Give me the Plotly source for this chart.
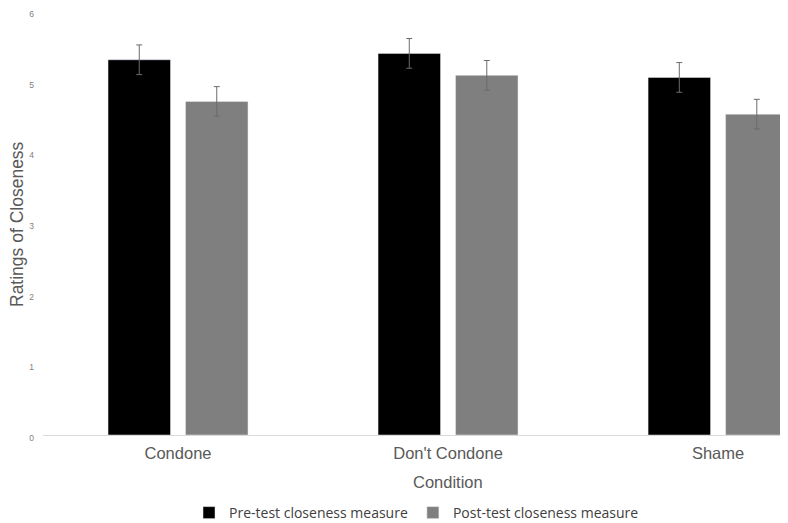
import plotly.graph_objects as go

categories = ["Condone", "Don't Condone", "Shame"]
pre_values = [5.31, 5.40, 5.06]
pre_errors = [0.21, 0.21, 0.21]
post_values = [4.72, 5.09, 4.54]
post_errors = [0.21, 0.21, 0.21]
series_names = ["Pre-test closeness measure", "Post-test closeness measure"]
y_ticks = [0, 1, 2, 3, 4, 5, 6]

fig = go.Figure()
fig.add_trace(go.Bar(
    x=categories, y=pre_values, name=series_names[0],
    marker=dict(color="#000000"),
    error_y=dict(type="data", array=pre_errors, color="#6b6b6b", thickness=1, width=3),
))
fig.add_trace(go.Bar(
    x=categories, y=post_values, name=series_names[1],
    marker=dict(color="#7f7f7f"),
    error_y=dict(type="data", array=post_errors, color="#6b6b6b", thickness=1, width=3),
))

# page body has an 8px margin; figure occupies 780x515 of the 788x523 window
fig.update_layout(
    width=780, height=515,
    margin=dict(l=35, r=0, t=3, b=88, autoexpand=False),
    paper_bgcolor="white", plot_bgcolor="white",
    barmode="group", bargap=0.426, bargroupgap=0.194,
    font=dict(family="Liberation Sans, Arial, sans-serif", color="#595959"),
    showlegend=True,
    legend=dict(orientation="h", x=0.196, xanchor="left", y=-0.184, yanchor="middle",
                font=dict(size=14, color="#404040", family="Open Sans, sans-serif"),
                itemwidth=30, tracegroupgap=0, bgcolor="rgba(0,0,0,0)"),
    xaxis=dict(
        range=[-0.5, 2.259], showline=True, linecolor="#d9d9d9", linewidth=1,
        showgrid=False, ticks="", tickfont=dict(size=16.5, color="#595959"),
        ticklabelstandoff=3, automargin=False,
    ),
    yaxis=dict(
        range=[0, 6], tickvals=y_ticks, showgrid=False, showline=False, zeroline=False,
        tickfont=dict(size=8.5, color="#7f7f7f"), ticklabelstandoff=8, automargin=False,
        ticklabeloverflow="allow", ticklabelshift=3,
    ),
    annotations=[
        dict(text="Condition", xref="paper", yref="paper", x=(440 - 35) / 745, y=(427 - 474) / 424,
             xanchor="center", yanchor="middle", showarrow=False,
             font=dict(size=16.5, color="#595959")),
        dict(text="Ratings of Closeness", xref="paper", yref="paper", x=(9 - 35) / 745,
             y=(427 - 216) / 424, xanchor="center", yanchor="middle", textangle=-90,
             showarrow=False, font=dict(size=17.5, color="#595959")),
    ],
)

fig.write_html("out.html")
